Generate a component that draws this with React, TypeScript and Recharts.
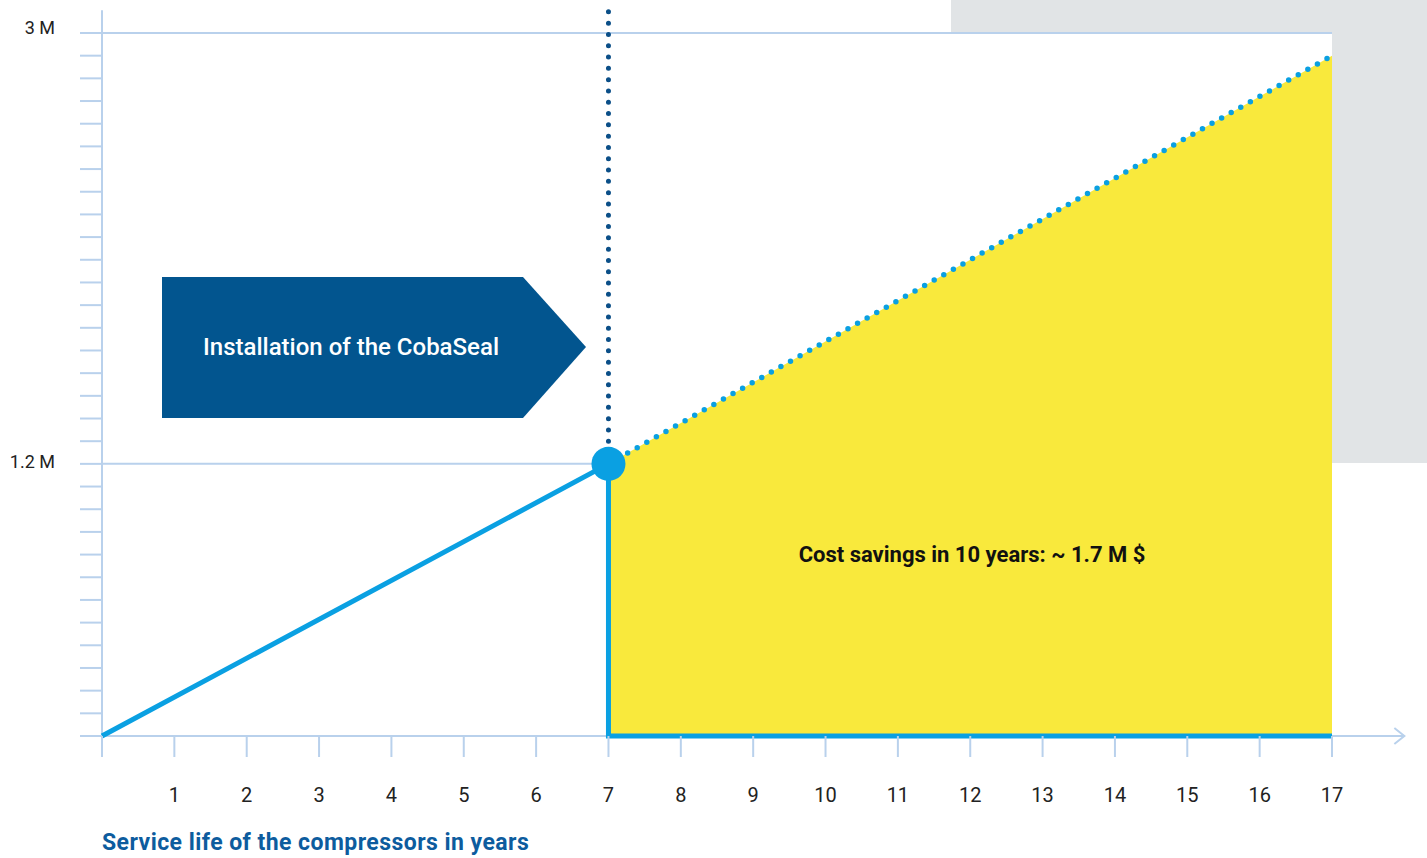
import { ComposedChart, Line, Area, XAxis, YAxis, ReferenceLine, ReferenceDot } from 'recharts';

// service life in years
const xTicks = [0, 1, 2, 3, 4, 5, 6, 7, 8, 9, 10, 11, 12, 13, 14, 15, 16, 17];
// cost in million $, minor ticks every 0.1 M
const yTicks = [
  0, 0.1, 0.2, 0.3, 0.4, 0.5, 0.6, 0.7, 0.8, 0.9, 1.0, 1.1, 1.2, 1.3, 1.4, 1.5,
  1.6, 1.7, 1.8, 1.9, 2.0, 2.1, 2.2, 2.3, 2.4, 2.5, 2.6, 2.7, 2.8, 2.9, 3.0, 3.1,
];
const yTickLabels: Record<string, string> = { '1.2': '1.2 M', '3.1': '3 M' };
const yTop = 3.1;
const axisOvershootY = 3.2;
const axisOvershootX = 18;

const installYear = 7;
const installCost = 1.2;

// cost curve with the seal installed (drops to zero after installation)
const costWithSeal = [
  { year: 0, cost: 0 },
  { year: 7, cost: 1.2 },
  { year: 7, cost: 0 },
  { year: 17, cost: 0 },
];
// projected cost without the seal
const costWithoutSeal = [
  { year: 7, cost: 1.2 },
  { year: 17, cost: 3.0 },
];

const AXIS = '#b9d1ec';
const BLUE = '#0aa0e2';
const DARK = '#02558f';
const YELLOW = '#f9e93c';
const FONT = 'Roboto, sans-serif';

const YTick = ({ x, y, payload }: any) => {
  const label = yTickLabels[String(payload.value)];
  if (!label) return null;
  const dy = payload.value === yTop ? 1 : 4;
  return (
    <text x={x} y={y} dy={dy} textAnchor="end" fill="#222" fontSize={18} fontFamily={FONT}>
      {label}
    </text>
  );
};

const ArrowAxis = (props: any) => {
  const { x1, y1, x2, y2 } = props;
  return (
    <g>
      <line x1={x1} y1={y1} x2={x2} y2={y2} stroke={AXIS} strokeWidth={2} />
      <polyline
        points={`${x2 - 10},${y2 - 8} ${x2},${y2} ${x2 - 10},${y2 + 8}`}
        fill="none"
        stroke={AXIS}
        strokeWidth={2}
      />
    </g>
  );
};

export default function App() {
  return (
    <div style={{ position: 'absolute', left: 0, top: 0, width: 1427, height: 858, background: '#fff', fontFamily: FONT }}>
      <svg width={1427} height={858} style={{ position: 'absolute', left: 0, top: 0 }}>
        <polygon points="951,0 1427,0 1427,463 1332,463 1332,33 951,33" fill="#e1e4e6" />
      </svg>
      <div style={{ position: 'absolute', left: 0, top: 0 }}>
        <ComposedChart width={1427} height={858} margin={{ top: 33, right: 95, bottom: 0, left: 0 }}>
          <XAxis
            type="number"
            dataKey="year"
            domain={[0, 17]}
            ticks={xTicks}
            interval={0}
            axisLine={false}
            tickLine={{ stroke: AXIS, strokeWidth: 2 }}
            tickSize={21}
            tickMargin={31}
            height={122}
            tick={{ fill: '#222', fontSize: 20, fontFamily: FONT }}
            tickFormatter={(v: number) => (v === 0 ? '' : String(v))}
          />
          <YAxis
            type="number"
            dataKey="cost"
            domain={[0, yTop]}
            ticks={yTicks}
            interval={0}
            width={102}
            axisLine={false}
            tickLine={{ stroke: AXIS, strokeWidth: 2 }}
            tickSize={22}
            tickMargin={25}
            tick={<YTick />}
          />
          <ReferenceLine
            segment={[{ x: 0, y: installCost }, { x: installYear, y: installCost }]}
            stroke={AXIS}
            strokeWidth={2}
          />
          <ReferenceLine y={yTop} stroke={AXIS} strokeWidth={2} />
          <ReferenceLine
            segment={[{ x: 0, y: 0 }, { x: 0, y: axisOvershootY }]}
            stroke={AXIS}
            strokeWidth={2}
            ifOverflow="visible"
          />
          <ReferenceLine
            segment={[{ x: 0, y: 0 }, { x: axisOvershootX, y: 0 }]}
            ifOverflow="visible"
            shape={ArrowAxis}
          />
          <Area
            data={costWithoutSeal}
            dataKey="cost"
            type="linear"
            fill={YELLOW}
            fillOpacity={1}
            stroke="none"
            isAnimationActive={false}
          />
          <ReferenceLine
            segment={[{ x: installYear, y: installCost }, { x: installYear, y: axisOvershootY }]}
            stroke="#0b4f88"
            strokeWidth={5}
            strokeDasharray="0 11.3"
            strokeLinecap="round"
            ifOverflow="visible"
          />
          <Line
            data={costWithSeal}
            dataKey="cost"
            type="linear"
            stroke={BLUE}
            strokeWidth={5}
            dot={false}
            isAnimationActive={false}
          />
          <Line
            data={costWithoutSeal}
            dataKey="cost"
            type="linear"
            stroke={BLUE}
            strokeWidth={5.5}
            strokeDasharray="0 11"
            strokeLinecap="round"
            dot={false}
            isAnimationActive={false}
          />
          <ReferenceDot x={installYear} y={installCost} r={17} fill={BLUE} stroke="none" ifOverflow="visible" />
        </ComposedChart>
      </div>
      <svg width={1427} height={858} style={{ position: 'absolute', left: 0, top: 0, pointerEvents: 'none' }}>
        <polygon points="162,277 523,277 586,347 523,418 162,418" fill={DARK} />
        <text x={351} y={355} textAnchor="middle" fill="#fff" fontSize={24} fontWeight={500} fontFamily={FONT}>
          Installation of the CobaSeal
        </text>
        <text x={972} y={562} textAnchor="middle" fill="#111" fontSize={22} fontWeight={700} fontFamily={FONT}>
          Cost savings in 10 years: ~ 1.7 M $
        </text>
        <text x={102} y={850} fill="#0d5c9e" fontSize={23} fontWeight={700} fontFamily={FONT} letterSpacing={0.45}>
          Service life of the compressors in years
        </text>
      </svg>
    </div>
  );
}
